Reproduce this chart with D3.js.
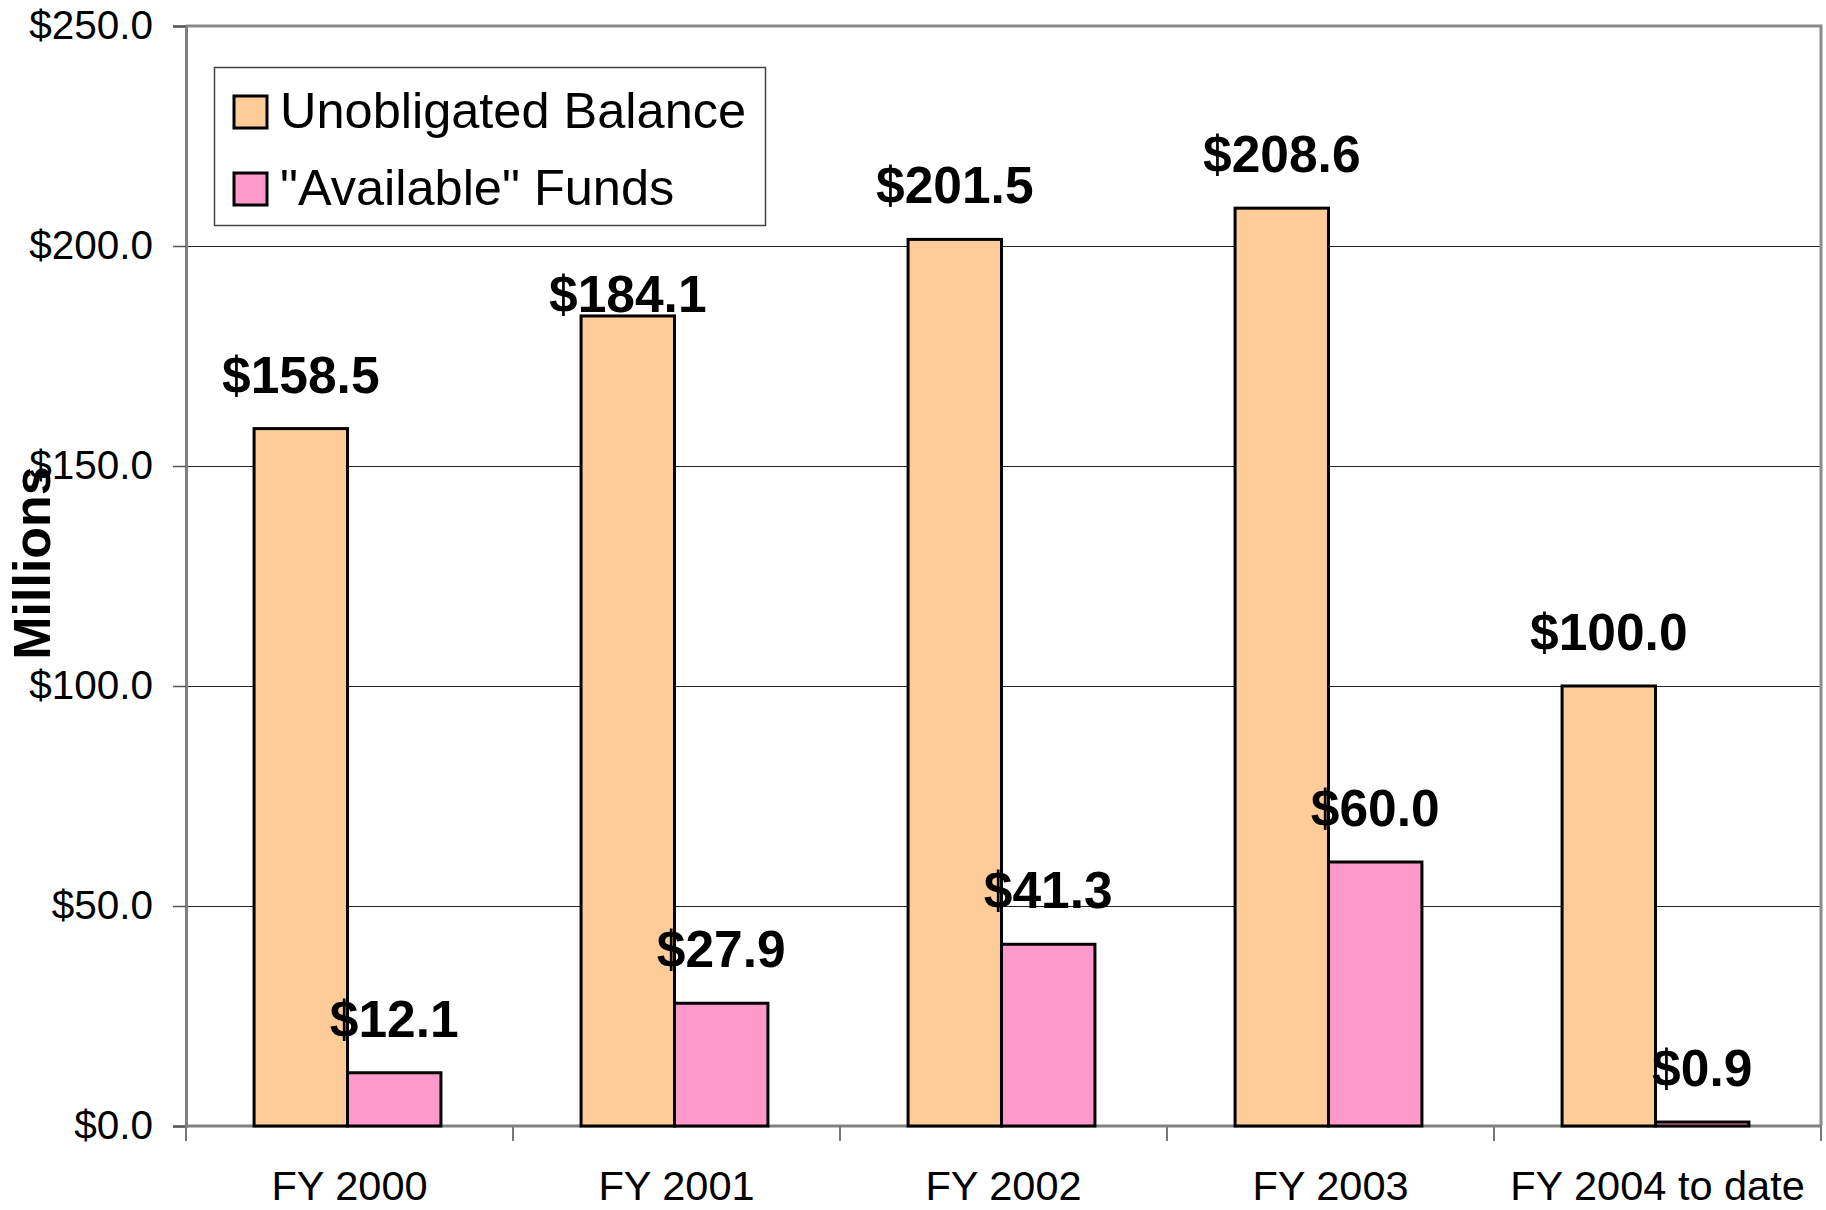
<!DOCTYPE html>
<html>
<head>
<meta charset="utf-8">
<script src="https://cdn.jsdelivr.net/npm/d3@7"></script>
<style>
  body { margin: 0; background: #fff; }
  text { font-family: "Liberation Sans", Arial, sans-serif; }
</style>
</head>
<body>
<svg id="chart" width="1826" height="1210"></svg>
<script>
// chart data
const categories = ['FY 2000', 'FY 2001', 'FY 2002', 'FY 2003', 'FY 2004 to date'];
const seriesNames = ['Unobligated Balance', '"Available" Funds'];
const unobligated = [158.5, 184.1, 201.5, 208.6, 100.0];
const available = [12.1, 27.9, 41.3, 60.0, 0.9];
const yTicks = [0, 50, 100, 150, 200, 250];
const colors = ['#FFCC99', '#FF99CC'];

const series = [unobligated, available];
const plotL = 186, plotR = 1821, plotT = 26, plotB = 1126;

const svg = d3.select('#chart');

const x = d3.scaleBand().domain(categories).range([plotL, plotR]);
const y = d3.scaleLinear().domain([0, 250]).range([plotB, plotT]);
// excel style: ~150% gap width, two bars per group
const barW = x.bandwidth() / 3.5;
const groupOff = (x.bandwidth() - 2 * barW) / 2 - 2;

// gridlines
svg.append('g').selectAll('line').data(yTicks.filter(d => d > 0 && d < 250))
  .enter().append('line')
  .attr('x1', plotL).attr('x2', plotR)
  .attr('y1', d => y(d) + 0.5).attr('y2', d => y(d) + 0.5)
  .style('stroke', '#222').style('stroke-width', 1);

// plot frame (top + right)
svg.append('path')
  .attr('d', 'M' + plotL + ',' + plotT + 'H' + plotR + 'V' + plotB)
  .style('fill', 'none').style('stroke', '#8a8a8a').style('stroke-width', 3);

// y axis
const yAxis = svg.append('g').attr('transform', 'translate(' + plotL + ',0)')
  .call(d3.axisLeft(y).tickValues(yTicks).tickSize(13).tickPadding(20)
        .tickFormat(d => '$' + d.toFixed(1)));
yAxis.select('.domain').style('stroke', '#808080').style('stroke-width', 3);
yAxis.selectAll('.tick line').style('stroke', '#555').style('stroke-width', 1.5);
yAxis.selectAll('text').style('font-size', '40.5px').style('fill', '#000')
  .style('font-family', '"Liberation Sans", Arial, sans-serif');

// x axis: labels centred, ticks on category boundaries
const xAxis = svg.append('g').attr('transform', 'translate(0,' + plotB + ')')
  .call(d3.axisBottom(x).tickSize(0).tickPadding(45));
xAxis.select('.domain').remove();
xAxis.selectAll('text').style('font-size', '41.5px').style('fill', '#000')
  .style('font-family', '"Liberation Sans", Arial, sans-serif');

const bounds = categories.map(c => x(c)).concat([plotR]);
svg.append('g').selectAll('line').data(bounds).enter().append('line')
  .attr('x1', d => d).attr('x2', d => d)
  .attr('y1', plotB).attr('y2', plotB + 15)
  .style('stroke', '#777').style('stroke-width', 2);
svg.append('line')
  .attr('x1', plotL).attr('x2', plotR).attr('y1', plotB).attr('y2', plotB)
  .style('stroke', '#808080').style('stroke-width', 3);

// bars
series.forEach(function(vals, s) {
  svg.append('g').selectAll('rect').data(vals).enter().append('rect')
    .attr('x', (d, i) => x(categories[i]) + groupOff + s * barW)
    .attr('y', d => y(d))
    .attr('width', barW)
    .attr('height', d => plotB - y(d))
    .style('fill', colors[s])
    .style('stroke', '#000')
    .style('stroke-width', 3);
});

// value labels (the FY 2001 balance label sits lower, as in the source)
const labelGap = { '0-1': 4 };
series.forEach(function(vals, s) {
  svg.append('g').selectAll('text').data(vals).enter().append('text')
    .attr('x', (d, i) => x(categories[i]) + groupOff + s * barW + barW / 2)
    .attr('y', (d, i) => y(d) - (labelGap[s + '-' + i] !== undefined ? labelGap[s + '-' + i] : 36))
    .attr('text-anchor', 'middle')
    .style('font-size', '51.5px').style('font-weight', 'bold')
    .text(d => '$' + d.toFixed(1));
});

// y title
svg.append('text')
  .attr('transform', 'translate(50,563) rotate(-90)')
  .attr('text-anchor', 'middle')
  .style('font-size', '52px').style('font-weight', 'bold')
  .text('Millions');

// legend
const lg = svg.append('g');
lg.append('rect').attr('x', 214.5).attr('y', 67.5).attr('width', 551).attr('height', 158)
  .style('fill', '#fff').style('stroke', '#444').style('stroke-width', 1.5);
seriesNames.forEach(function(name, s) {
  const cy = 112 + s * 77;
  lg.append('rect').attr('x', 234).attr('y', cy - 16).attr('width', 33).attr('height', 32)
    .style('fill', colors[s]).style('stroke', '#000').style('stroke-width', 3);
  lg.append('text').attr('x', 280).attr('y', cy + 16)
    .style('font-size', '50.5px').text(name);
});
</script>
</body>
</html>
